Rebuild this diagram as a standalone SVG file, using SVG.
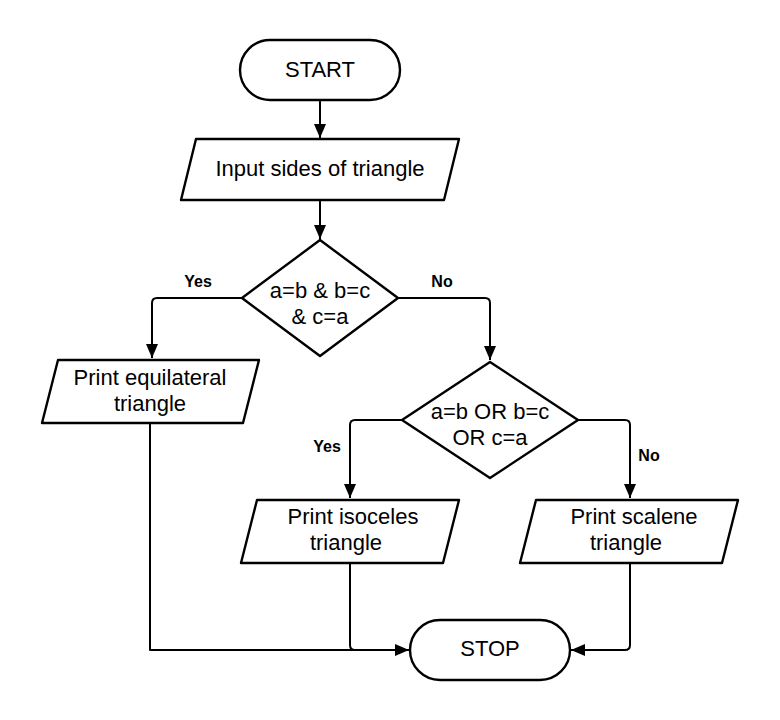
<svg xmlns="http://www.w3.org/2000/svg" width="780" height="720" viewBox="0 0 780 720">
<defs>
<style>
.shape{fill:#fff;stroke:#000;stroke-width:2.4;stroke-linejoin:round}
.t{font-family:"Liberation Sans",Arial,sans-serif;font-size:22px;fill:#000;text-anchor:middle;dominant-baseline:central}
.lbl{font-family:"Liberation Sans",Arial,sans-serif;font-size:16px;font-weight:bold;fill:#000;text-anchor:middle;dominant-baseline:central}
.c{fill:none;stroke:#000;stroke-width:2;stroke-linejoin:round}
</style>
<marker id="ah" viewBox="0 0 14 12" refX="14" refY="6" markerWidth="14" markerHeight="12" markerUnits="userSpaceOnUse" orient="auto">
<path d="M0,0 L14,6 L0,12 Z" fill="#000"/>
</marker>
</defs>
<rect width="780" height="720" fill="#fff"/>
<g id="connectors">
<path class="c" d="M320,101 V138" marker-end="url(#ah)"/>
<path class="c" d="M320,200 V239" marker-end="url(#ah)"/>
<path class="c" d="M242,298 H157 Q152,298 152,303 V358" marker-end="url(#ah)"/>
<path class="c" d="M398,298 H485 Q490,298 490,303 V360" marker-end="url(#ah)"/>
<path class="c" d="M402,420 H355 Q350,420 350,425 V498" marker-end="url(#ah)"/>
<path class="c" d="M578,420 H625 Q630,420 630,425 V498" marker-end="url(#ah)"/>
<path class="c" d="M150,423 V650 H409" marker-end="url(#ah)"/>
<path class="c" d="M350,563 V645 Q350,650 355,650"/>
<path class="c" d="M630,563 V645 Q630,650 625,650 H571" marker-end="url(#ah)"/>
<text class="lbl" x="198" y="281">Yes</text>
<text class="lbl" x="442" y="281">No</text>
<text class="lbl" x="327" y="446">Yes</text>
<text class="lbl" x="649" y="455">No</text>
</g>
<g id="start">
<rect class="shape" x="240" y="40" width="160" height="60" rx="30"/>
<text class="t" x="320" y="69">START</text>
</g>
<g id="input">
<path class="shape" d="M196,139 H459 L444,200 H181 Z"/>
<text class="t" x="320" y="168">Input sides of triangle</text>
</g>
<g id="decision1">
<path class="shape" d="M320,240 L398,298 L320,356 L242,298 Z"/>
<text class="t" x="320" y="290">a=b &amp; b=c</text>
<text class="t" x="320" y="316">&amp; c=a</text>
</g>
<g id="equilateral">
<path class="shape" d="M58,360 H259 L243,423 H42 Z"/>
<text class="t" x="150" y="377">Print equilateral</text>
<text class="t" x="150" y="403">triangle</text>
</g>
<g id="decision2">
<path class="shape" d="M490,362 L578,420 L490,478 L402,420 Z"/>
<text class="t" x="490" y="411">a=b OR b=c</text>
<text class="t" x="490" y="437">OR c=a</text>
</g>
<g id="isoceles">
<path class="shape" d="M257,500 H459 L443,563 H241 Z"/>
<text class="t" x="353" y="516">Print isoceles</text>
<text class="t" x="346" y="542">triangle</text>
</g>
<g id="scalene">
<path class="shape" d="M536,500 H738 L722,563 H520 Z"/>
<text class="t" x="634" y="516">Print scalene</text>
<text class="t" x="626" y="542">triangle</text>
</g>
<g id="stop">
<rect class="shape" x="410" y="620" width="160" height="60" rx="30"/>
<text class="t" x="490" y="648">STOP</text>
</g>
</svg>
